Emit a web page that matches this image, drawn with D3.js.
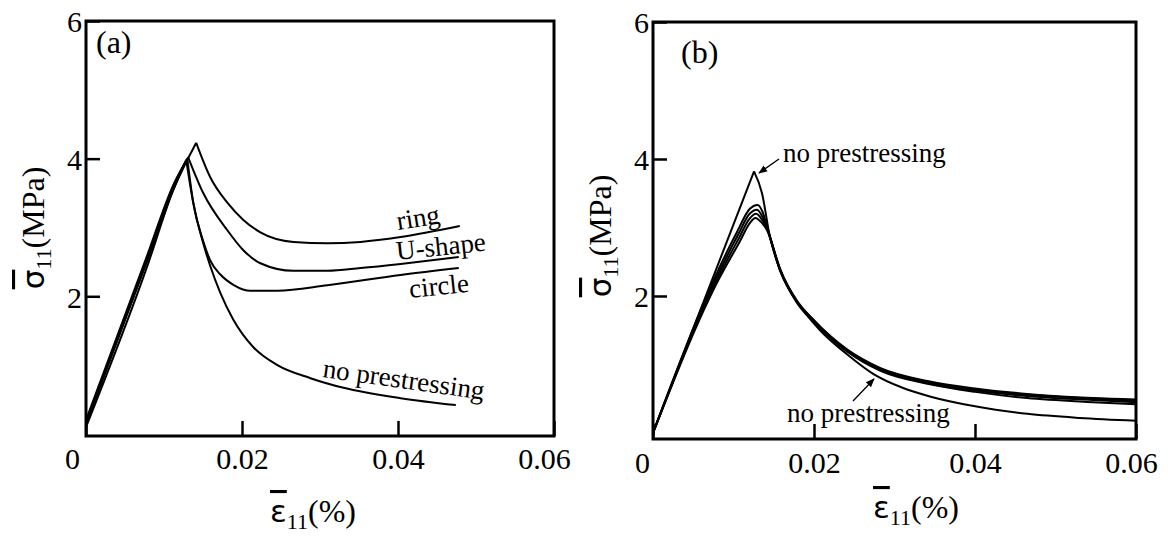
<!DOCTYPE html>
<html>
<head>
<meta charset="utf-8">
<script src="https://cdn.jsdelivr.net/npm/d3@7/dist/d3.min.js"></script>
<style>
  html, body { margin: 0; padding: 0; background: #fff; }
  svg { display: block; }
  svg text { font-family: "Liberation Serif", "Times New Roman", serif; }
</style>
</head>
<body>
<div id="chart-container"></div>
<script>
// --- DATA ---
const xTicks = [0, 0.02, 0.04, 0.06];
const yTicks = [2, 4, 6];

// panel (a): [strain %, stress MPa]
const ringA = [[0, 0.17], [0.0078, 2.5], [0.0112, 3.55], [0.01413, 4.23], [0.01593, 3.73], [0.01812, 3.36], [0.02017, 3.11],
  [0.02236, 2.93], [0.0266, 2.79], [0.03096, 2.77], [0.0352, 2.79], [0.04034, 2.86], [0.04792, 3.02]];
const uShapeA = [[0, 0.2], [0.0078, 2.58], [0.0112, 3.62], [0.0131, 4.02], [0.01503, 3.5], [0.01812, 2.96], [0.02017, 2.67],
  [0.02236, 2.48], [0.0266, 2.37], [0.03096, 2.37], [0.0352, 2.41], [0.04034, 2.47], [0.04779, 2.57]];
const circleA = [[0, 0.14], [0.0078, 2.52], [0.0112, 3.6], [0.01298, 4.0], [0.01375, 3.36], [0.01503, 2.8], [0.01593, 2.52],
  [0.0172, 2.32], [0.01900, 2.16], [0.02107, 2.08], [0.02454, 2.08], [0.03096, 2.16], [0.04034, 2.31], [0.04779, 2.41]];
const noPreA = [[0, 0.1], [0.0078, 2.42], [0.0112, 3.55], [0.01285, 3.98], [0.01375, 3.36], [0.01503, 2.77], [0.01593, 2.44],
  [0.01722, 2.05], [0.01889, 1.66], [0.02146, 1.26], [0.02454, 1.0], [0.02878, 0.81], [0.03302, 0.67], [0.04034, 0.52], [0.04741, 0.42]];

// panel (b)
const noPreB = [[0, 0], [0.0064, 1.95], [0.01255, 3.82], [0.01354, 3.5], [0.01453, 2.86], [0.01578, 2.38], [0.01789, 1.92],
  [0.02075, 1.5], [0.0241, 1.15], [0.0274, 0.86], [0.031, 0.66], [0.0345, 0.53], [0.04, 0.39], [0.0465, 0.28], [0.053, 0.22], [0.06, 0.18]];
const pre1B = [[0, 0], [0.0076, 2.25], [0.0105, 2.95], [0.012, 3.27], [0.013, 3.33], [0.0137, 3.2], [0.0142, 3.0], [0.01578, 2.4],
  [0.01789, 1.93], [0.01988, 1.66], [0.0241, 1.22], [0.0282, 0.95], [0.03441, 0.75], [0.04, 0.65], [0.04646, 0.57], [0.05466, 0.51], [0.06, 0.49]];
const pre2B = [[0, 0], [0.0078, 2.25], [0.0106, 2.9], [0.012, 3.2], [0.0129, 3.26], [0.0137, 3.13], [0.0142, 2.98], [0.01578, 2.39],
  [0.01789, 1.92], [0.01988, 1.65], [0.0241, 1.21], [0.0282, 0.94], [0.03441, 0.74], [0.04, 0.64], [0.04646, 0.56], [0.05466, 0.5], [0.06, 0.47]];
const pre3B = [[0, 0], [0.008, 2.25], [0.0107, 2.85], [0.012, 3.13], [0.0128, 3.2], [0.0136, 3.1], [0.0142, 2.97], [0.01578, 2.38],
  [0.01789, 1.91], [0.01988, 1.64], [0.0241, 1.2], [0.0282, 0.92], [0.03441, 0.72], [0.04, 0.62], [0.04646, 0.54], [0.05466, 0.48], [0.06, 0.45]];
const pre4B = [[0, 0], [0.0082, 2.25], [0.0108, 2.8], [0.012, 3.06], [0.0127, 3.14], [0.0135, 3.07], [0.0142, 2.95], [0.01578, 2.37],
  [0.01789, 1.9], [0.01988, 1.63], [0.0241, 1.19], [0.0282, 0.91], [0.03441, 0.71], [0.04, 0.6], [0.04646, 0.51], [0.05466, 0.45], [0.06, 0.42]];

// index of the sharp peak (-1 = rounded)
const seriesA = [ringA, uShapeA, circleA, noPreA];
const peaksA = [3, 3, 3, 3];
const seriesB = [noPreB, pre1B, pre2B, pre3B, pre4B];
const peaksB = [2, -1, -1, -1, -1];

const labelsA = ["ring", "U-shape", "circle", "no prestressing"];
const labelsB = ["no prestressing", "no prestressing"];

// --- LAYOUT ---
const W = 1168, H = 541;
const serif = "'Liberation Serif', 'Times New Roman', serif";
const sans = "'DejaVu Sans', sans-serif";
const panels = [
  { id: "a", x0: 86, x1: 554, yTop: 21, yBot: 436, yMin: -0.03, series: seriesA, peaks: peaksA,
    tag: { x: 96, y: 53, text: "(a)" }, zeroDx: -14, lastDx: -10, xLblY: 33,
    yLabel: { x: 44, y: 228 }, xLabel: { x: 313, y: 522 } },
  { id: "b", x0: 653, x1: 1136, yTop: 22, yBot: 439, yMin: -0.088, series: seriesB, peaks: peaksB,
    tag: { x: 681, y: 63, text: "(b)" }, zeroDx: -11, lastDx: -5, xLblY: 34,
    yLabel: { x: 611, y: 236 }, xLabel: { x: 916, y: 518 } }
];

const svg = d3.select("#chart-container").append("svg")
  .attr("width", W).attr("height", H)
  .attr("viewBox", [0, 0, W, H])
  .attr("font-family", serif);

const fmt = d => d === 0 ? "0" : d.toFixed(2);

panels.forEach(p => {
  const x = d3.scaleLinear().domain([0, 0.06]).range([p.x0, p.x1]);
  const y = d3.scaleLinear().domain([p.yMin, 6]).range([p.yBot, p.yTop]);
  const g = svg.append("g");

  // axes
  const gx = g.append("g").attr("transform", `translate(0,${p.yBot})`)
    .call(d3.axisBottom(x).tickValues(xTicks).tickSize(-15).tickFormat(fmt));
  const gy = g.append("g").attr("transform", `translate(${p.x0},0)`)
    .call(d3.axisLeft(y).tickValues(yTicks).tickSize(-14).tickPadding(4).tickFormat(d3.format("d")));
  [gx, gy].forEach(a => {
    a.attr("font-family", serif).attr("font-size", 30);
    a.select(".domain").remove();
    a.selectAll("line").attr("stroke", "#000").attr("stroke-width", 2.5);
    a.selectAll("text").attr("fill", "#000");
  });
  gx.selectAll("text").attr("y", p.xLblY).attr("dy", null)
    .attr("dx", d => d === 0 ? p.zeroDx : (d === 0.06 ? p.lastDx : 0));
  gy.selectAll("text").attr("dy", "0.36em");

  // frame
  g.append("rect")
    .attr("x", p.x0).attr("y", p.yTop)
    .attr("width", p.x1 - p.x0).attr("height", p.yBot - p.yTop)
    .attr("fill", "none").attr("stroke", "#000").attr("stroke-width", 3);

  // curves
  const line = d3.line().x(d => x(d[0])).y(d => y(d[1])).curve(d3.curveMonotoneX);
  p.series.forEach((s, i) => {
    const k = p.peaks[i];
    const parts = k > 0 ? [s.slice(0, k + 1), s.slice(k)] : [s];
    parts.forEach(part => {
      g.append("path").attr("d", line(part))
        .attr("fill", "none").attr("stroke", "#000")
        .attr("stroke-width", 2).attr("stroke-linejoin", "miter");
    });
  });

  // panel tag
  g.append("text").attr("x", p.tag.x).attr("y", p.tag.y)
    .attr("font-size", 32).text(p.tag.text);

  // y label
  const yl = g.append("text")
    .attr("transform", `translate(${p.yLabel.x},${p.yLabel.y}) rotate(-90)`)
    .attr("text-anchor", "middle").attr("font-size", 32);
  yl.append("tspan").attr("font-family", sans).attr("font-size", 31)
    .style("text-decoration", "overline").text("σ");
  yl.append("tspan").attr("dy", 7).attr("font-size", 22).text("11");
  yl.append("tspan").attr("dy", -7).text("(MPa)");

  // x label
  const xl = g.append("text")
    .attr("x", p.xLabel.x).attr("y", p.xLabel.y)
    .attr("text-anchor", "middle").attr("font-size", 32);
  xl.append("tspan").attr("font-family", sans).attr("font-size", 31)
    .style("text-decoration", "overline").text("ε");
  xl.append("tspan").attr("dy", 7).attr("font-size", 22).text("11");
  xl.append("tspan").attr("dy", -7).text("(%)");

  p.g = g;
});

// curve labels panel (a)
const posA = [
  { x: 398, y: 230, r: -9 },
  { x: 397, y: 260, r: -6 },
  { x: 410, y: 298, r: -6 },
  { x: 322, y: 377, r: 8 }
];
labelsA.forEach((t, i) => {
  panels[0].g.append("text")
    .attr("transform", `translate(${posA[i].x},${posA[i].y}) rotate(${posA[i].r})`)
    .attr("font-size", 27).text(t);
});

// curve labels panel (b) with arrows
svg.append("defs").append("marker")
  .attr("id", "arr").attr("viewBox", "0 0 10 10")
  .attr("refX", 9).attr("refY", 5)
  .attr("markerWidth", 9).attr("markerHeight", 9)
  .attr("markerUnits", "userSpaceOnUse")
  .attr("orient", "auto")
  .append("path").attr("d", "M0,1 L10,5 L0,9 z").attr("fill", "#000");

const posB = [
  { x: 783, y: 162, ax1: 779, ay1: 159, ax2: 759, ay2: 173 },
  { x: 787, y: 422, ax1: 853, ay1: 401, ax2: 874, ay2: 379 }
];
labelsB.forEach((t, i) => {
  const q = posB[i];
  panels[1].g.append("text").attr("x", q.x).attr("y", q.y)
    .attr("font-size", 27).text(t);
  panels[1].g.append("line")
    .attr("x1", q.ax1).attr("y1", q.ay1).attr("x2", q.ax2).attr("y2", q.ay2)
    .attr("stroke", "#000").attr("stroke-width", 1.3)
    .attr("marker-end", "url(#arr)");
});
</script>
</body>
</html>
